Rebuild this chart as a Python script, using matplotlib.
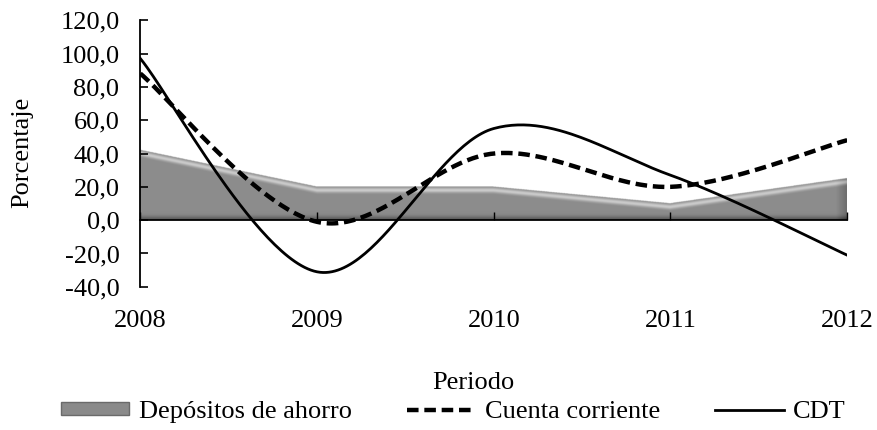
import numpy as np
import matplotlib
matplotlib.use("Agg")
import matplotlib.pyplot as plt
from matplotlib.lines import Line2D
from matplotlib.patches import Patch

plt.rcParams['font.family'] = ['Liberation Serif', 'DejaVu Serif']

years = [2008, 2009, 2010, 2011, 2012]
ahorro = [42.0, 20.0, 20.0, 10.0, 25.0]
cuenta = [88.0, -1.0, 40.0, 20.0, 48.0]
cdt = [97.0, -31.0, 55.0, 27.0, -21.0]
ytick_vals = [-40, -20, 0, 20, 40, 60, 80, 100, 120]
FS = 19


def smooth(xs, ys, n=60):
    xs = np.asarray(xs, float); ys = np.asarray(ys, float)
    px = np.concatenate([[xs[0]], xs, [xs[-1]]])
    py = np.concatenate([[ys[0]], ys, [ys[-1]]])
    ox, oy = [], []
    t = np.linspace(0, 1, n)
    for i in range(1, len(px) - 2):
        p0 = np.array([px[i], py[i]]); p3 = np.array([px[i + 1], py[i + 1]])
        p1 = p0 + (np.array([px[i + 1], py[i + 1]]) - np.array([px[i - 1], py[i - 1]])) / 6
        p2 = p3 - (np.array([px[i + 2], py[i + 2]]) - np.array([px[i], py[i]])) / 6
        b = ((1 - t) ** 3)[:, None] * p0 + (3 * (1 - t) ** 2 * t)[:, None] * p1 + \
            (3 * (1 - t) * t ** 2)[:, None] * p2 + (t ** 3)[:, None] * p3
        ox.extend(b[:, 0]); oy.extend(b[:, 1])
    return np.array(ox), np.array(oy)


fig = plt.figure(figsize=(8.77, 4.30), dpi=100)
ax = fig.add_axes([0.160, 0.333, 0.806, 0.620])

# area with bevel-like gradient shading
ymax_area = max(ahorro) + 1
gx = np.linspace(years[0], years[-1], 800)
gy = np.linspace(0, ymax_area, 300)
top = np.interp(gx, years, ahorro)
GX, GY = np.meshgrid(gx, gy)
TOP = np.broadcast_to(top, GX.shape)
dist_top = (TOP - GY)
shade = np.full(GX.shape, 0.55)
shade = np.where(dist_top < 4.5, 0.55 + 0.25 * np.exp(-((dist_top - 2.2) / 1.4) ** 2), shade)
shade = shade - 0.20 * np.exp(-(GY / 2.2) ** 2)
shade = shade - 0.12 * np.clip((GX - (years[-1] - 0.06)) / 0.06, 0, 1)
rgba = np.zeros(GX.shape + (4,))
rgba[..., 0] = shade; rgba[..., 1] = shade; rgba[..., 2] = shade
rgba[..., 3] = (GY <= TOP).astype(float)
ax.imshow(rgba, extent=[years[0], years[-1], 0, ymax_area], origin='lower',
          aspect='auto', interpolation='bilinear', zorder=1)

xc, yc = smooth(years, cuenta)
ax.plot(xc, yc, color='black', lw=3.2, ls=(0, (2.6, 1.3)), zorder=3)
xd, yd = smooth(years, cdt)
ax.plot(xd, yd, color='black', lw=2.0, zorder=4)

ax.set_xlim(2008, 2012)
ax.set_ylim(-40, 120)
ax.set_yticks(ytick_vals)
ax.set_yticklabels([f"{v:.1f}".replace('.', ',') for v in ytick_vals], fontsize=FS)
ax.tick_params(axis='y', direction='in', length=6, width=1.2, pad=15)

ax.spines['top'].set_visible(False)
ax.spines['right'].set_visible(False)
ax.spines['left'].set_linewidth(1.3)
ax.spines['bottom'].set_position(('data', 0))
ax.spines['bottom'].set_linewidth(1.3)
ax.spines['bottom'].set_zorder(5)
ax.set_xticks(years)
ax.tick_params(axis='x', direction='in', length=6, width=1.0, labelbottom=False)

sec = ax.secondary_xaxis(0.0)
sec.set_xticks(years)
sec.set_xticklabels([str(y) for y in years], fontsize=FS)
sec.tick_params(length=0, pad=17)
sec.spines['bottom'].set_visible(False)

fig.text(22 / 877, 0.645, 'Porcentaje', rotation=90, ha='center', va='center', fontsize=FS)
fig.text(0.54, 0.11, 'Periodo', ha='center', va='center', fontsize=FS)

handles = [Patch(facecolor='#8a8a8a', edgecolor='#6a6a6a'),
           Line2D([], [], color='black', lw=3.2, ls=(0, (2.6, 1.3))),
           Line2D([], [], color='black', lw=2.0)]
labels = ['Depósitos de ahorro', 'Cuenta corriente', 'CDT']
fig.legend(handles, labels, loc='center', bbox_to_anchor=(0.517, 0.042), ncol=3,
           frameon=False, fontsize=FS, handlelength=2.6, handletextpad=0.35,
           columnspacing=2.1, handleheight=0.4)

fig.savefig('out.png', dpi=100)
